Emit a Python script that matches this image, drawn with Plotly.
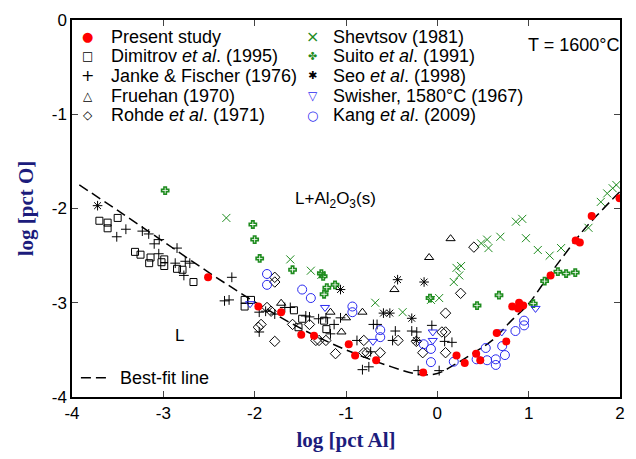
import plotly.graph_objects as go

# ---------------- data (log[pct Al], log[pct O]) ----------------
present_x = [-2.51, -1.96, -1.71, -1.49, -1.35, -0.97, -0.90, -0.67, -0.155, 0.21, 0.30, 0.425, 0.47,
             0.65, 0.755, 0.82, 0.885, 0.895, 0.94, 1.24, 1.515, 1.56, 1.69, 1.995]
present_y = [-2.73, -3.04, -3.10, -3.34, -3.35, -3.44, -3.56, -3.61, -3.74, -3.56, -3.64, -3.54, -3.61,
             -3.32, -3.41, -3.04, -3.06, -3.00, -3.03, -2.71, -2.34, -2.36, -2.08, -1.89]

dimitrov_x = [-3.70, -3.61, -3.61, -3.50, -3.31, -3.25, -3.14, -3.155, -3.02, -2.99, -2.99, -2.85, -2.79,
              -2.67, -2.11, -2.04, -2.11, -1.57, -1.52, -1.48, -1.24, -1.215]
dimitrov_y = [-2.13, -2.15, -2.21, -2.10, -2.46, -2.49, -2.52, -2.58, -2.57, -2.54, -2.61, -2.64, -2.65,
              -2.78, -2.97, -2.97, -3.04, -3.08, -3.26, -3.17, -3.19, -3.28]

janke_x = [-3.51, -3.41, -3.23, -3.16, -3.10, -3.045, -3.05, -2.85, -2.87, -2.76, -2.71, -2.775, -2.25,
           -2.33, -2.28, -1.95, -1.88, -1.78, -1.67, -1.61, -1.95, -1.44, -1.40, -1.30, -1.22, -1.13,
           -1.06, -1.17, -0.88, -0.82, -0.75, -0.73, -0.70, -0.66, -0.46, -0.49, -0.28, -0.225, -0.06,
           0.08, 0.16, -0.21, 0.02]
janke_y = [-2.30, -2.22, -2.24, -2.27, -2.375, -2.33, -2.48, -2.42, -2.58, -2.56, -2.58, -2.71, -2.73,
           -2.98, -2.97, -3.10, -3.09, -3.12, -3.05, -3.05, -3.31, -3.14, -3.15, -3.17, -3.16, -3.23,
           -3.16, -3.33, -3.40, -3.71, -3.68, -3.52, -3.23, -3.23, -3.30, -3.40, -3.30, -3.31, -3.24,
           -3.41, -3.42, -3.72, -3.72]

fruehan_x = [-1.71, -1.17, -1.00, -1.05, -0.82, -0.47, -0.09, 0.145]
fruehan_y = [-3.005, -3.10, -3.16, -3.31, -3.10, -2.86, -2.52, -2.32]

rohde_x = [-1.78, -1.78, -1.865, -1.82, -1.96, -1.93, -1.78, -1.585, -1.40, -1.33, -1.295, -1.22, -1.115,
           -0.805, -0.805, -0.77, -0.625, -0.43, -0.23, -0.16, 0.05, 0.09, 0.09, 0.09, 0.255, 0.40]
rohde_y = [-2.73, -2.78, -3.05, -3.09, -3.26, -3.23, -3.41, -3.23, -3.23, -3.40, -3.40, -3.40, -3.54,
           -3.40, -3.53, -3.53, -3.53, -3.40, -3.41, -3.53, -3.31, -3.31, -3.53, -3.11, -2.90, -2.41]

shevtsov_x = [-2.31, -1.61, -1.385, -1.27, -0.68, -0.38, -0.07, 0.02, 0.18, 0.24, 0.26, 0.21, 0.48, 0.545,
              0.56, 0.69, 0.86, 0.93, 0.97, 1.10, 1.23, 1.355, 1.655, 1.79, 1.86, 1.92, 1.96]
shevtsov_y = [-2.10, -2.54, -2.66, -2.705, -3.00, -3.10, -2.97, -2.95, -2.78, -2.71, -2.61, -2.63, -2.37,
              -2.33, -2.42, -2.30, -2.14, -2.11, -2.315, -2.44, -2.50, -2.42, -2.205, -1.93, -1.84,
              -1.785, -1.75]

suito_x = [-2.98, -2.02, -2.00, -1.945, -1.585, -1.27, -1.25, -1.21, -1.24, -1.12, -0.08, 0.435, 0.675,
           1.05, 1.175, 1.32, 1.41, 1.51]
suito_y = [-1.81, -2.17, -2.33, -2.53, -2.65, -2.69, -2.72, -2.84, -2.91, -2.81, -2.95, -3.03, -2.92,
           -3.01, -2.77, -2.67, -2.69, -2.68]

seo_x = [-3.72, -1.06, -0.435, -0.145, -0.59, -0.52, -0.28, -0.23]
seo_y = [-1.97, -2.86, -2.755, -2.78, -3.11, -3.11, -3.165, -3.40]

swisher_x = [-2.05, -1.23, -0.705, -0.05, -0.05, 0.705, 1.075]
swisher_y = [-3.01, -3.05, -3.41, -3.31, -3.40, -3.31, -3.06]

kang_x = [-1.865, -1.865, -1.48, -1.385, -0.93, -0.93, -0.625, -0.625, -0.15, -0.07, -0.07, 0.18, 0.43,
          0.53, 0.545, 0.64, 0.64, 0.71, 0.74, 0.855, 0.95, 0.95]
kang_y = [-2.695, -2.81, -2.86, -2.95, -3.04, -3.10, -3.29, -3.365, -3.44, -3.49, -3.63, -3.625, -3.60,
          -3.48, -3.61, -3.60, -3.66, -3.46, -3.555, -3.30, -3.19, -3.24]

fit_x = [-3.92, -3.5, -3.0, -2.5, -2.0, -1.5, -1.0, -0.5, -0.2, 0.0, 0.2, 0.4, 0.6, 0.8, 1.0,
         1.2, 1.4, 1.6, 1.8, 2.0]
fit_y = [-1.75, -2.02, -2.35, -2.68, -2.99, -3.27, -3.50, -3.68, -3.76, -3.75, -3.65, -3.53, -3.40,
         -3.20, -3.01, -2.74, -2.48, -2.23, -2.02, -1.82]

x_ticks = [-4, -3, -2, -1, 0, 1, 2]
y_ticks = [0, -1, -2, -3, -4]

GREEN = "#1f8c1f"
BLUE = "#2b2bf0"
FONT = "Liberation Sans, Arial, sans-serif"
SERIF = "Liberation Serif, Times New Roman, serif"
TITLE_COLOR = "#1c1c7c"

# series: (x, y, legend label, symbol, colour, size, line width, key glyph, glyph size, column)
series = [
    (present_x, present_y, "Present study", "circle", "red", 8, 0, "\u25cf", 13, 0),
    (dimitrov_x, dimitrov_y, "Dimitrov <i>et al</i>. (1995)", "square-open", "black", 7, 1, "\u25a1", 12, 0),
    (janke_x, janke_y, "Janke & Fischer (1976)", "cross-thin-open", "black", 7, 1, "+", 16, 0),
    (fruehan_x, fruehan_y, "Fruehan (1970)", "triangle-up-open", "black", 8, 1, "\u25b3", 12, 0),
    (rohde_x, rohde_y, "Rohde <i>et al</i>. (1971)", "diamond-open", "black", 8, 1, "\u25c7", 12, 0),
    (shevtsov_x, shevtsov_y, "Shevtsov (1981)", "x-thin-open", GREEN, 8, 1, "\u00d7", 16, 1),
    (suito_x, suito_y, "Suito <i>et al</i>. (1991)", "cross-open", GREEN, 6, 1.6, "\u2724", 11, 1),
    (seo_x, seo_y, "Seo <i>et al</i>. (1998)", "asterisk-open", "black", 8, 1, "\u2731", 11, 1),
    (swisher_x, swisher_y, "Swisher, 1580\u00b0C (1967)", "triangle-down-open", BLUE, 8, 1, "\u25bd", 12, 1),
    (kang_x, kang_y, "Kang <i>et al</i>. (2009)", "circle-open", BLUE, 9, 1, "\u25cb", 13, 1),
]

fig = go.Figure()

fig.add_trace(go.Scatter(x=fit_x, y=fit_y, mode="lines", name="Best-fit line", showlegend=False,
                         line=dict(color="black", width=1.5, dash="10px,5px", shape="spline")))

# draw order: reference data first, present study on top
for s in series[1:] + series[:1]:
    x, y, name, sym, col, size, lw = s[:7]
    fig.add_trace(go.Scatter(x=x, y=y, mode="markers", name=name, showlegend=False,
                             marker=dict(symbol=sym, size=size, color=col,
                                         line=dict(color=col, width=lw))))

# ---- two-column key drawn as text (row pitch as in the reference) ----
PLOT_L, PLOT_W, PLOT_B, PLOT_H = 72, 553, 401, 384
def px(p):
    return (p - PLOT_L) / PLOT_W
def py(p):
    return (PLOT_B - p) / PLOT_H

row_y = [34, 54, 74, 94, 114]
col_sym = [88, 315]
col_txt = [109, 333]
counts = [0, 0]
for s in series:
    name, col, glyph, gsize, c = s[2], s[4], s[7], s[8], s[9]
    r = counts[c]
    counts[c] += 1
    fig.add_annotation(xref="paper", yref="paper", x=px(col_sym[c]), y=py(row_y[r]), text=glyph,
                       showarrow=False, xanchor="center", yanchor="middle",
                       font=dict(family="DejaVu Sans", size=gsize, color=col))
    fig.add_annotation(xref="paper", yref="paper", x=px(col_txt[c]), y=py(row_y[r]), text=name,
                       showarrow=False, xanchor="left", yanchor="middle",
                       font=dict(family=FONT, size=18, color="black"))

# best-fit line key
fig.add_shape(type="line", xref="paper", yref="paper", x0=px(81), x1=px(107), y0=py(381.5),
              y1=py(381.5), line=dict(color="black", width=1.5, dash="10px,5px"))
fig.add_annotation(xref="paper", yref="paper", x=px(118), y=py(381.5), text="Best-fit line",
                   showarrow=False, xanchor="left", yanchor="middle",
                   font=dict(family=FONT, size=18, color="black"))

fig.update_layout(
    width=636, height=459,
    margin=dict(l=72, r=11, t=17, b=58),
    paper_bgcolor="white", plot_bgcolor="white",
    font=dict(family=FONT, size=17, color="black"),
    showlegend=False,
    xaxis=dict(range=[-4, 2], tickvals=x_ticks, ticktext=[str(v) for v in x_ticks],
               ticks="inside", ticklen=6, tickwidth=1,
               showline=True, linecolor="black", linewidth=1.5, mirror="ticks", showgrid=False,
               zeroline=False, tickfont=dict(size=17, family=FONT),
               title=dict(text="<b>log [pct Al]</b>", standoff=10,
                          font=dict(family=SERIF, size=21, color=TITLE_COLOR))),
    yaxis=dict(range=[-4, 0], tickvals=y_ticks, ticktext=[str(v) for v in y_ticks],
               ticks="inside", ticklen=6, tickwidth=1,
               showline=True, linecolor="black", linewidth=1.5, mirror="ticks", showgrid=False,
               zeroline=False, tickfont=dict(size=17, family=FONT),
               title=dict(text="<b>log [pct O]</b>", standoff=12,
                          font=dict(family=SERIF, size=21, color=TITLE_COLOR))),
)

fig.add_annotation(xref="paper", yref="paper", x=px(578), y=py(42), text="T = 1600\u00b0C",
                   showarrow=False, xanchor="center", yanchor="middle", font=dict(size=18))
fig.add_annotation(x=-1.12, y=-1.91, xref="x", yref="y",
                   text="L+Al<sub>2</sub>O<sub>3</sub>(s)", showarrow=False, font=dict(size=17))
fig.add_annotation(x=-2.82, y=-3.35, xref="x", yref="y", text="L", showarrow=False,
                   font=dict(size=17))

fig.write_html("out.html")
